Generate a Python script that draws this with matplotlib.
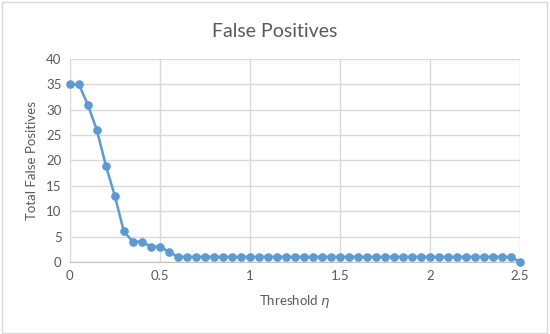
import numpy as np
import matplotlib.pyplot as plt
from matplotlib.patches import Rectangle

plt.rcParams['font.family'] = ['Lato', 'DejaVu Sans']

# data
thresholds = [round(0.05 * i, 2) for i in range(51)]
false_pos = [35, 35, 31, 26, 19, 13, 6, 4, 4, 3, 3, 2] + [1] * 38 + [0]
x_ticks = [0, 0.5, 1, 1.5, 2, 2.5]
x_tick_labels = ["0", "0.5", "1", "1.5", "2", "2.5"]
y_ticks = [0, 5, 10, 15, 20, 25, 30, 35, 40]

text_col = "#595959"
grid_col = "#D9D9D9"
line_col = "#5B9BD5"

fig = plt.figure(figsize=(5.5, 3.34), dpi=100)
ax = fig.add_axes([0.127, 0.216, 0.818, 0.607])

ax.plot(thresholds, false_pos, color=line_col, lw=1.8, marker="o", ms=5.2,
        markeredgecolor=line_col, markerfacecolor=line_col, zorder=3, clip_on=False)

ax.set_xlim(0, 2.5)
ax.set_ylim(0, 40)
ax.set_xticks(x_ticks)
ax.set_xticklabels(x_tick_labels)
ax.set_yticks(y_ticks)
ax.grid(True, color=grid_col, lw=1)
ax.set_axisbelow(True)
for s in ["top", "right", "left"]:
    ax.spines[s].set_visible(False)
ax.spines["bottom"].set_color("#BFBFBF")
ax.tick_params(length=0, colors=text_col, labelsize=9.5, pad=6)

ax.set_xlabel(r"Threshold $\eta$", color=text_col, fontsize=9.5, labelpad=8)
ax.set_ylabel("Total False Positives", color=text_col, fontsize=9.5, labelpad=6)
fig.text(0.5, 0.905, "False Positives", ha="center", va="center",
         color=text_col, fontsize=14)

# chart border
fig.patches.append(Rectangle((0.004, 0.004), 0.99, 0.99, transform=fig.transFigure,
                             fill=False, edgecolor="#D9D9D9", lw=1))

fig.savefig("out.png", dpi=100)
